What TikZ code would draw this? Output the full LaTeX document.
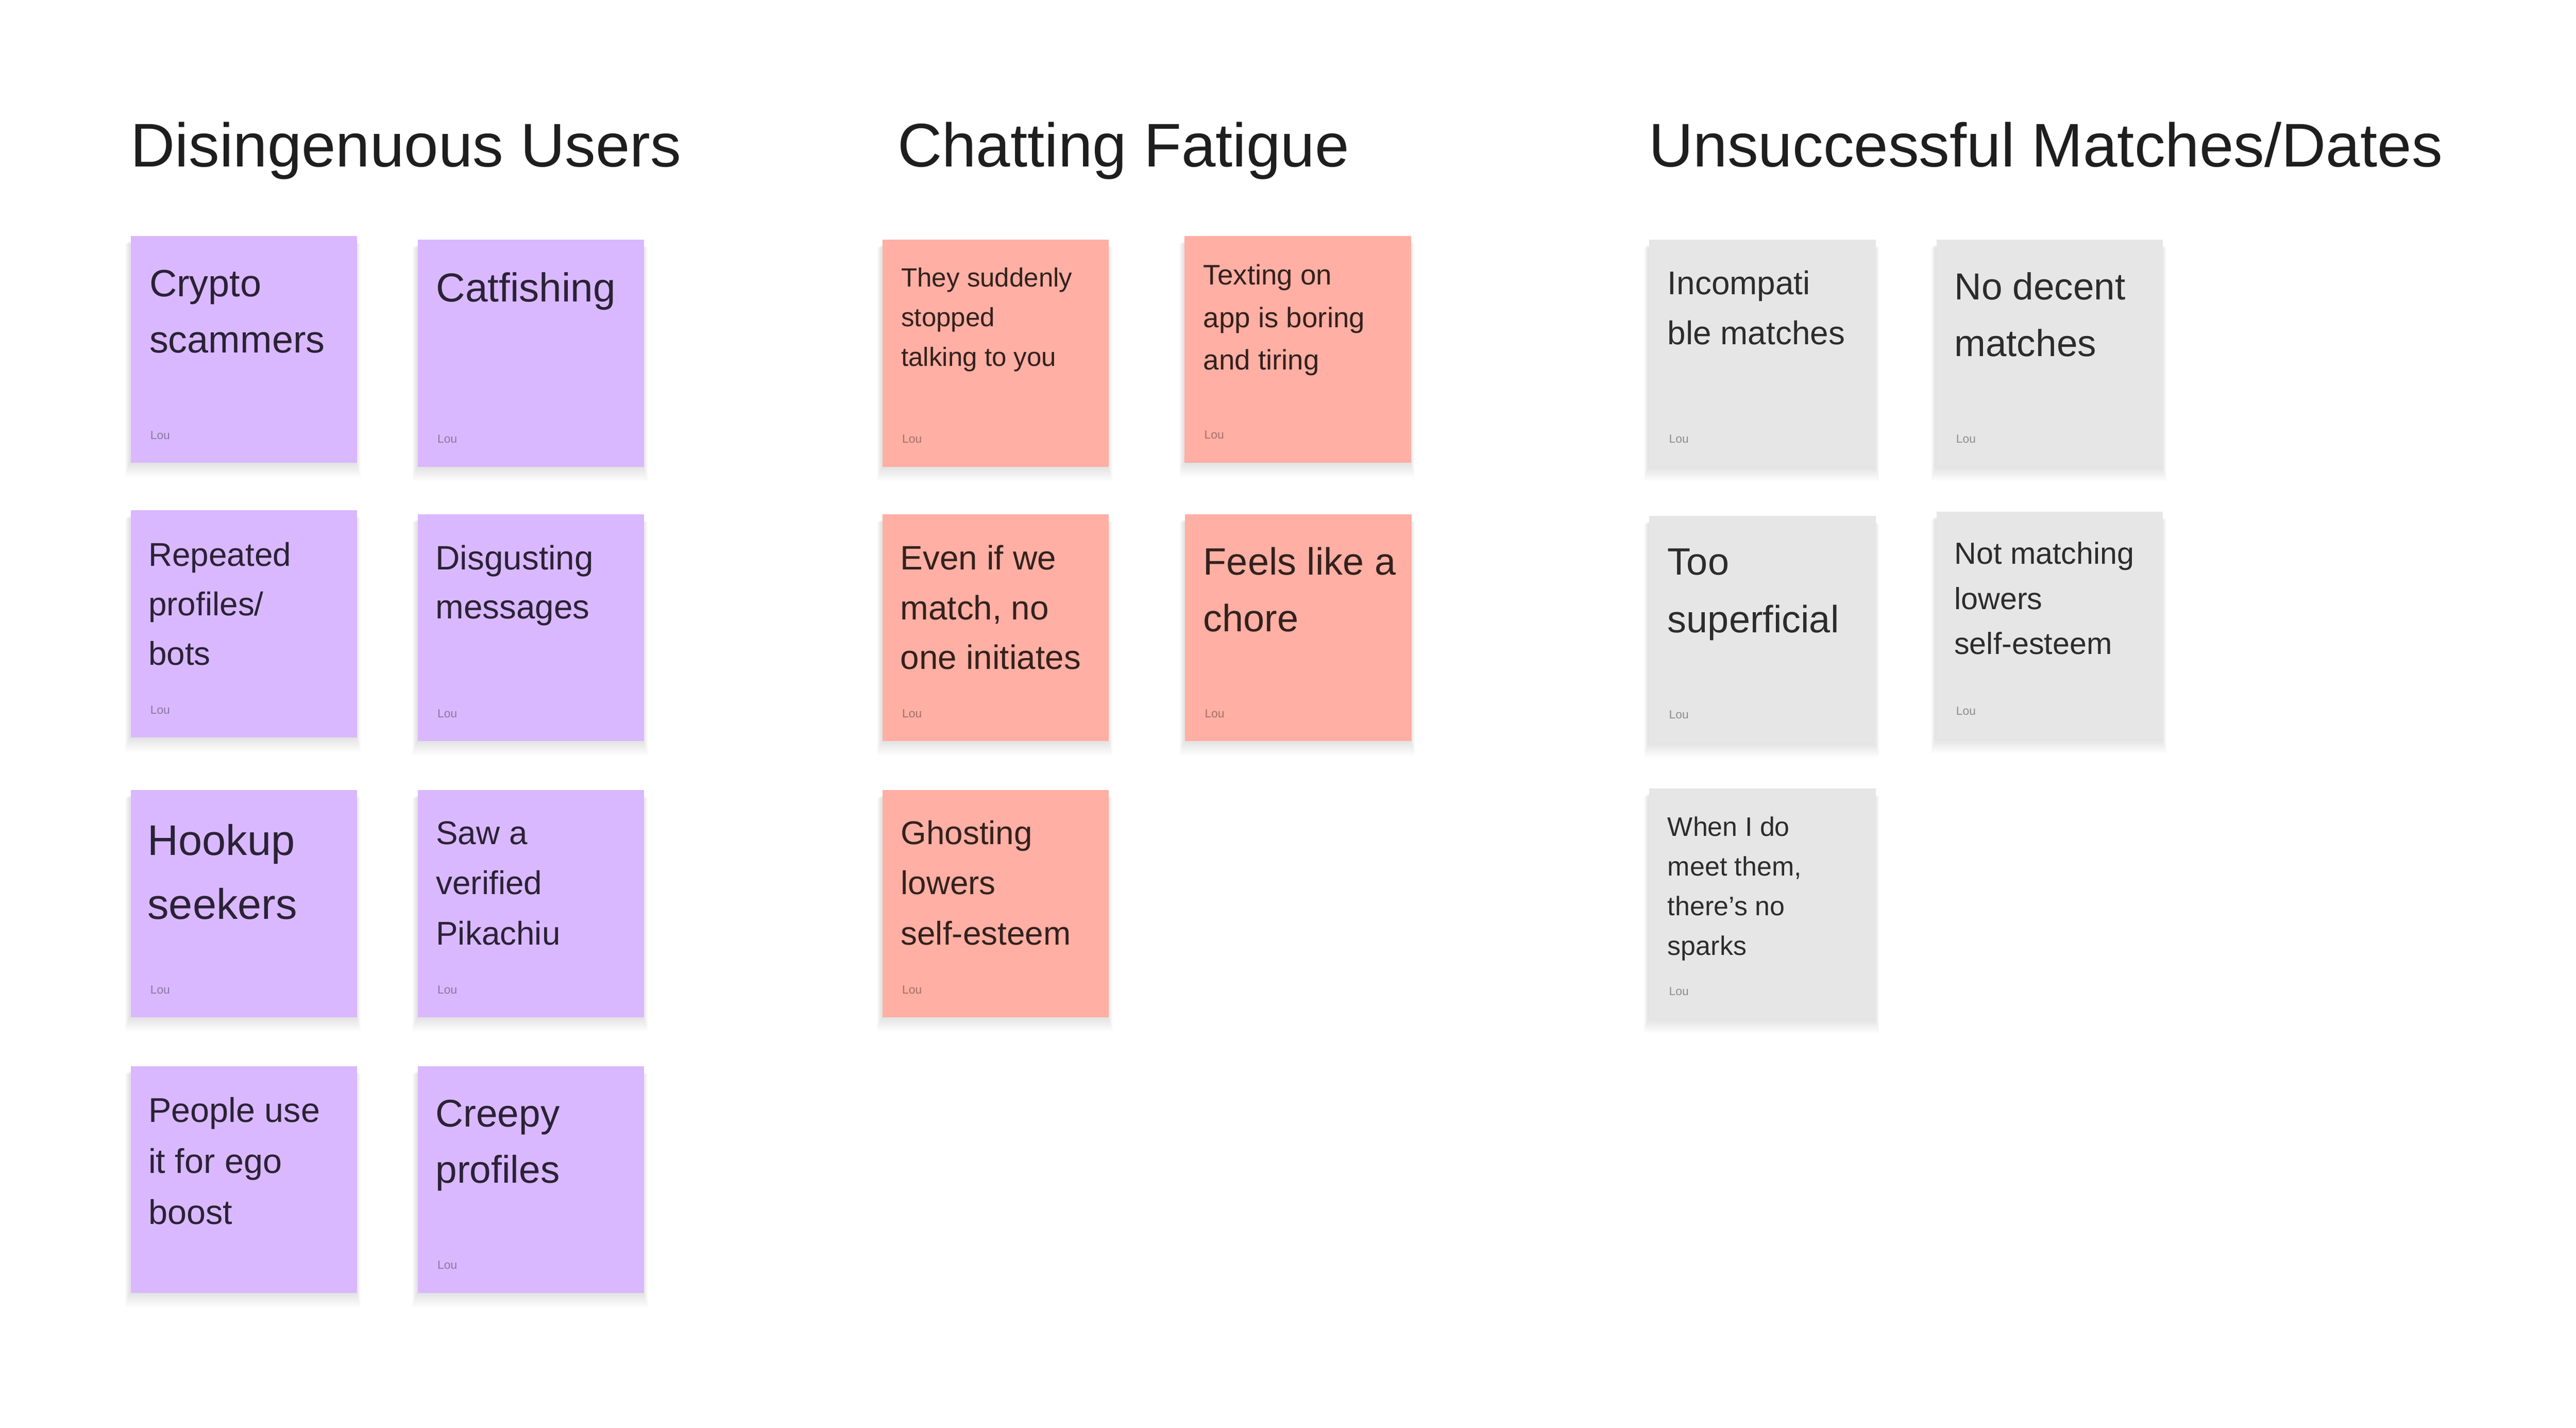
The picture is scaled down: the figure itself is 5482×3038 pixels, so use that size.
\documentclass[tikz,border=0pt]{standalone}
\usepackage{fontspec}
\setmainfont{Liberation Sans}
\definecolor{ppurple}{HTML}{D9B8FF}
\definecolor{psalmon}{HTML}{FFAFA3}
\definecolor{pgray}{HTML}{E6E6E6}
\definecolor{tpurple}{HTML}{2A2236}
\definecolor{tsalmon}{HTML}{33211E}
\definecolor{tgray}{HTML}{2C2C2C}
\definecolor{lpurple}{HTML}{8B76A3}
\definecolor{lsalmon}{HTML}{A3706A}
\definecolor{lgray}{HTML}{8C8C8C}
\definecolor{titlecol}{HTML}{1E1E1E}
\newcommand\notefont[2]{\fontsize{#1}{#2}\selectfont}
\newcommand\Lines[1]{\vtop{\lineskiplimit=-100pt #1}}
\newcommand\noteline[1]{\hbox{#1}}
\newcommand\noteshadow[3]{%
  \foreach \k in {1,...,14}{%
    \fill[black, opacity=0.0065] ({#1-\k*0.7},{#2+12+\k*0.5}) rectangle ({#1+482+\k*0.7},{#2+#3+2+\k*2.2});
  }}
\tikzset{
  note/.style={anchor=north west, inner sep=0pt, draw=none, minimum width=48.2pt, minimum height=48.3pt},
  pnote/.style={note, fill=ppurple},
  snote/.style={note, fill=psalmon},
  gnote/.style={note, fill=pgray},
  ntext/.style={anchor=base west, inner sep=0pt},
  ptext/.style={ntext, text=tpurple},
  stext/.style={ntext, text=tsalmon},
  gtext/.style={ntext, text=tgray},
  lou/.style={anchor=base west, inner sep=0pt, font=\notefont{2.5}{3}},
  plou/.style={lou, text=lpurple},
  slou/.style={lou, text=lsalmon},
  glou/.style={lou, text=lgray},
  heading/.style={anchor=base west, inner sep=0pt, text=titlecol, font=\notefont{13.1}{15}},
}
\begin{document}
\begin{tikzpicture}[x={(0.1pt,0)}, y={(0,-0.1pt)}]
\useasboundingbox (0,0) rectangle (5482,3038);
\fill[white] (0,0) rectangle (5482,3038);

% headings
\node[heading] (h1) at (276,355) {Disingenuous Users};
\node[heading] (h2) at (1908,355) {Chatting Fatigue};
\node[heading] (h3) at (3507,355) {Unsuccessful Matches/Dates};

% ---------- Disingenuous Users (purple) ----------
\noteshadow{276}{500}{483}
\node[pnote] (n1) at (276,500) {};
\node[ptext, font=\notefont{8.1}{12}] (n1t) at (316,631) {\Lines{\noteline{Crypto}\noteline{scammers}}};
\node[plou] (n1l) at (318,935) {Lou};

\noteshadow{887}{508}{483}
\node[pnote] (n2) at (887,508) {};
\node[ptext, font=\notefont{8.6}{12.9}] (n2t) at (926,642) {\Lines{\noteline{Catfishing}}};
\node[plou] (n2l) at (929,942) {Lou};

\noteshadow{276}{1084}{483}
\node[pnote] (n3) at (276,1084) {};
\node[ptext, font=\notefont{7.0}{10.55}] (n3t) at (314,1204) {\Lines{\noteline{Repeated}\noteline{profiles/}\noteline{bots}}};
\node[plou] (n3l) at (318,1519) {Lou};

\noteshadow{887}{1092}{483}
\node[pnote] (n4) at (887,1092) {};
\node[ptext, font=\notefont{7.2}{10.4}] (n4t) at (925,1212) {\Lines{\noteline{Disgusting}\noteline{messages}}};
\node[plou] (n4l) at (929,1527) {Lou};

\noteshadow{276}{1679}{483}
\node[pnote] (n5) at (276,1679) {};
\node[ptext, font=\notefont{9.1}{13.7}] (n5t) at (312,1819) {\Lines{\noteline{Hookup}\noteline{seekers}}};
\node[plou] (n5l) at (318,2114) {Lou};

\noteshadow{887}{1679}{483}
\node[pnote] (n6) at (887,1679) {};
\node[ptext, font=\notefont{7.0}{10.7}] (n6t) at (926,1796) {\Lines{\noteline{Saw a}\noteline{verified}\noteline{Pikachiu}}};
\node[plou] (n6l) at (929,2114) {Lou};

\noteshadow{276}{2266}{483}
\node[pnote] (n7) at (276,2266) {};
\node[ptext, font=\notefont{7.3}{10.85}] (n7t) at (314,2387) {\Lines{\noteline{People use}\noteline{it for ego}\noteline{boost}}};

\noteshadow{887}{2266}{483}
\node[pnote] (n8) at (887,2266) {};
\node[ptext, font=\notefont{8.2}{12.0}] (n8t) at (925,2397) {\Lines{\noteline{Creepy}\noteline{profiles}}};
\node[plou] (n8l) at (929,2700) {Lou};

% ---------- Chatting Fatigue (salmon) ----------
\noteshadow{1876}{508}{483}
\node[snote] (n9) at (1876,508) {};
\node[stext, font=\notefont{5.6}{8.45}] (n9t) at (1916,610) {\Lines{\noteline{They suddenly}\noteline{stopped}\noteline{talking to you}}};
\node[slou] (n9l) at (1918,942) {Lou};

\noteshadow{2519}{500}{483}
\node[snote] (n10) at (2519,500) {};
\node[stext, font=\notefont{6.0}{9.05}] (n10t) at (2559,606) {\Lines{\noteline{Texting on}\noteline{app is boring}\noteline{and tiring}}};
\node[slou] (n10l) at (2561,934) {Lou};

\noteshadow{1876}{1092}{483}
\node[snote] (n11) at (1876,1092) {};
\node[stext, font=\notefont{7.2}{10.6}] (n11t) at (1914,1212) {\Lines{\noteline{Even if we}\noteline{match, no}\noteline{one initiates}}};
\node[slou] (n11l) at (1918,1527) {Lou};

\noteshadow{2520}{1092}{483}
\node[snote] (n12) at (2520,1092) {};
\node[stext, font=\notefont{8.1}{12.1}] (n12t) at (2559,1223) {\Lines{\noteline{Feels like a}\noteline{chore}}};
\node[slou] (n12l) at (2562,1527) {Lou};

\noteshadow{1876}{1679}{483}
\node[snote] (n13) at (1876,1679) {};
\node[stext, font=\notefont{7.0}{10.7}] (n13t) at (1915,1796) {\Lines{\noteline{Ghosting}\noteline{lowers}\noteline{self-esteem}}};
\node[slou] (n13l) at (1918,2114) {Lou};

% ---------- Unsuccessful Matches/Dates (gray) ----------
\noteshadow{3508}{508}{483}
\node[gnote] (n14) at (3508,508) {};
\node[gtext, font=\notefont{7.0}{10.6}] (n14t) at (3547,627) {\Lines{\noteline{Incompati}\noteline{ble matches}}};
\node[glou] (n14l) at (3550,942) {Lou};

\noteshadow{4119}{508}{483}
\node[gnote] (n15) at (4119,508) {};
\node[gtext, font=\notefont{8.0}{12.0}] (n15t) at (4157,638) {\Lines{\noteline{No decent}\noteline{matches}}};
\node[glou] (n15l) at (4161,942) {Lou};

\noteshadow{3508}{1096}{483}
\node[gnote] (n16) at (3508,1096) {};
\node[gtext, font=\notefont{8.1}{12.3}] (n16t) at (3547,1223) {\Lines{\noteline{Too}\noteline{superficial}}};
\node[glou] (n16l) at (3550,1529) {Lou};

\noteshadow{4119}{1087}{483}
\node[gnote] (n17) at (4119,1087) {};
\node[gtext, font=\notefont{6.5}{9.6}] (n17t) at (4157,1200) {\Lines{\noteline{Not matching}\noteline{lowers}\noteline{self-esteem}}};
\node[glou] (n17l) at (4161,1521) {Lou};

\noteshadow{3508}{1676}{490}
\node[gnote, minimum height=49pt] (n18) at (3508,1676) {};
\node[gtext, font=\notefont{5.7}{8.45}] (n18t) at (3547,1779) {\Lines{\noteline{When I do}\noteline{meet them,}\noteline{there’s no}\noteline{sparks}}};
\node[glou] (n18l) at (3550,2118) {Lou};
\end{tikzpicture}
\end{document}
